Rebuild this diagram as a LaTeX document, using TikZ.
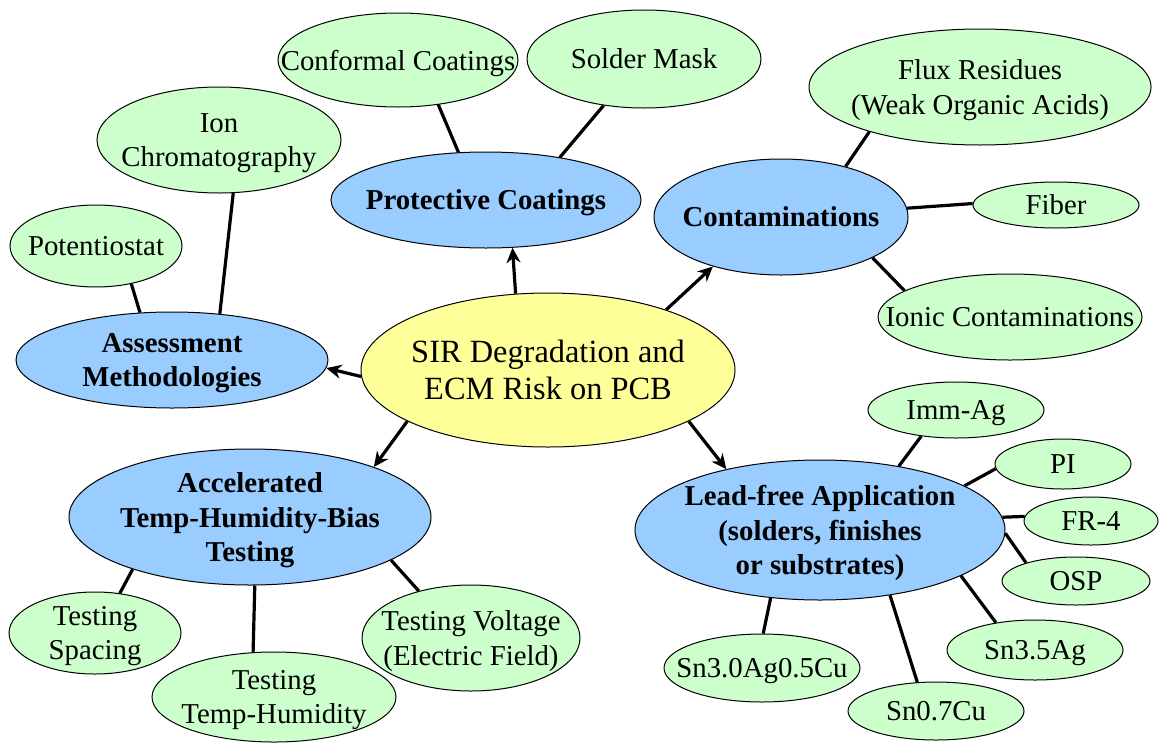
\documentclass[tikz,border=0pt]{standalone}
\usepackage{fontspec}
\setmainfont{Liberation Serif}
\usetikzlibrary{arrows.meta,shapes.geometric}
\definecolor{leafgreen}{RGB}{204,255,204}
\definecolor{topicblue}{RGB}{153,204,255}
\definecolor{coreyellow}{RGB}{255,255,153}
\tikzset{
    % negative inner sep: the ellipse size comes from mapsize only
    mapnode/.style={ellipse, draw, line width=0.5pt, align=center, inner sep=-60pt, text depth=0pt},
    mapsize/.style 2 args={minimum width=#1pt, minimum height=#2pt},
    mapcore/.style={mapnode, fill=coreyellow, font=\fontsize{16.2}{18.6}\selectfont},
    maptopic/.style={mapnode, fill=topicblue, font=\fontsize{14.4}{17.4}\selectfont\bfseries},
    mapleaf/.style={mapnode, fill=leafgreen, font=\fontsize{14.4}{17.2}\selectfont},
    maparrow/.style={-{Stealth[length=7.5pt, width=7pt]}, line width=1.6pt},
    mapline/.style={line width=1.6pt}
}

\begin{document}
\begin{tikzpicture}[x=0.5pt, y=-0.5pt]
    \useasboundingbox (0,0) rectangle (1160,744);
    % centre and main topics
    \node[mapcore, mapsize={187}{77}] (pcb) at (548,370) {SIR Degradation and\\ECM Risk on PCB};
    \node[maptopic, mapsize={155}{48}] (prot) at (486,200) {Protective Coatings};
    \node[maptopic, mapsize={127}{58}] (contam) at (781,217) {Contaminations};
    \node[maptopic, mapsize={156}{48}] (assess) at (172,360) {Assessment\\Methodologies};
    \node[maptopic, mapsize={181}{68}] (accel) at (250,517) {Accelerated\\Temp-Humidity-Bias\\Testing};
    \node[maptopic, mapsize={185}{70}] (lead) at (820,530) {Lead-free Application\\(solders, finishes\\or substrates)};
    % leaves
    \node[mapleaf, mapsize={120}{47}] (conf) at (398,60) {Conformal Coatings};
    \node[mapleaf, mapsize={117}{49}] (solder) at (644,59) {Solder Mask};
    \node[mapleaf, mapsize={122}{53}] (ion) at (219,140) {Ion\\Chromatography};
    \node[mapleaf, mapsize={86}{41}] (potent) at (96,246) {Potentiostat};
    \node[mapleaf, mapsize={171}{58}] (flux) at (980,87) {Flux Residues\\(Weak Organic Acids)};
    \node[mapleaf, mapsize={83}{23}] (fiber) at (1056,205) {Fiber};
    \node[mapleaf, mapsize={132}{43}] (ionic) at (1010,317) {Ionic Contaminations};
    \node[mapleaf, mapsize={86}{41}] (spacing) at (95,633) {Testing\\Spacing};
    \node[mapleaf, mapsize={122}{45}] (temphum) at (274,697) {Testing\\Temp-Humidity};
    \node[mapleaf, mapsize={109}{53}] (voltage) at (471,638) {Testing Voltage\\(Electric Field)};
    \node[mapleaf, mapsize={88}{28}] (immag) at (956,410) {Imm-Ag};
    \node[mapleaf, mapsize={68}{25}] (pi) at (1063,464) {PI};
    \node[mapleaf, mapsize={67}{24}] (fr4) at (1091,521) {FR-4};
    \node[mapleaf, mapsize={74}{24}] (osp) at (1076,581) {OSP};
    \node[mapleaf, mapsize={88}{30}] (sn35) at (1035,650) {Sn3.5Ag};
    \node[mapleaf, mapsize={88}{29}] (sn07) at (936,711) {Sn0.7Cu};
    \node[mapleaf, mapsize={98}{34}] (sn30) at (762,668) {Sn3.0Ag0.5Cu};
    % arrows from the centre
    \draw[maparrow] (pcb.113) -- (prot.-61);
    \draw[maparrow] (pcb.27) -- (contam.216);
    \draw[maparrow] (pcb.182) -- (assess.-3);
    \draw[maparrow] (pcb.200) -- (accel.22);
    \draw[maparrow] (pcb.-20) -- (lead.147);
    % plain links
    \draw[mapline] (conf.-48) -- (prot.120);
    \draw[mapline] (solder.-131) -- (prot.30);
    \draw[mapline] (ion.-75) -- (assess.44);
    \draw[mapline] (potent.-47) -- (assess.124);
    \draw[mapline] (flux.202) -- (contam.38);
    \draw[mapline] (contam.4) -- (fiber.179);
    \draw[mapline] (contam.-24) -- (ionic.166);
    \draw[mapline] (accel.204) -- (spacing.58);
    \draw[mapline] (accel.-86) -- (temphum.115);
    \draw[mapline] (accel.-17) -- (voltage.138);
    \draw[mapline] (immag.217) -- (lead.39);
    \draw[mapline] (pi.184) -- (lead.17);
    \draw[mapline] (fr4.176) -- (lead.4);
    \draw[mapline] (osp.160) -- (lead.-1);
    \draw[mapline] (sn35.145) -- (lead.-18);
    \draw[mapline] (sn07.123) -- (lead.-43);
    \draw[mapline] (sn30.88) -- (lead.-126);
\end{tikzpicture}
\end{document}
